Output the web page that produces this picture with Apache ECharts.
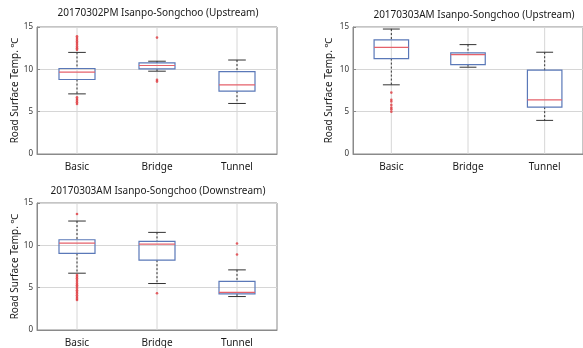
<!DOCTYPE html>
<html>
<head>
<meta charset="utf-8">
<script src="https://cdn.jsdelivr.net/npm/echarts@6/dist/echarts.min.js"></script>
<style>
html,body{margin:0;padding:0;background:#fff;}
#c{width:583px;height:348px;}
</style>
</head>
<body>
<div id="c"></div>
<script>
// ---- data ----
const categories = ['Basic', 'Bridge', 'Tunnel'];
const yTicks = [0, 5, 10, 15];
const titles = [
  '20170302PM Isanpo-Songchoo (Upstream)',
  '20170303AM Isanpo-Songchoo (Upstream)',
  '20170303AM Isanpo-Songchoo (Downstream)'
];
const yName = 'Road Surface Temp. ℃';

// panel 1: 20170302PM Upstream  (per category: whisker low, Q1, median, Q3, whisker high)
const p1Low  = [7.1, 9.78, 5.97];
const p1Q1   = [8.8, 10.05, 7.42];
const p1Med  = [9.68, 10.45, 8.17];
const p1Q3   = [10.1, 10.76, 9.74];
const p1High = [12.0, 10.96, 11.1];
const p1Outliers = [
  [0, 12.3], [0, 12.5], [0, 12.7], [0, 12.9], [0, 13.1], [0, 13.3], [0, 13.5], [0, 13.7], [0, 13.9],
  [0, 6.7], [0, 6.5], [0, 6.3], [0, 6.1], [0, 5.9],
  [1, 13.75], [1, 8.75], [1, 8.55]
];

// panel 2: 20170303AM Upstream
const p2Low  = [8.17, 10.25, 3.97];
const p2Q1   = [11.27, 10.56, 5.54];
const p2Med  = [12.6, 11.74, 6.4];
const p2Q3   = [13.47, 11.94, 9.9];
const p2High = [14.76, 12.92, 12.02];
const p2Outliers = [
  [0, 7.25], [0, 6.4], [0, 6.2], [0, 5.8], [0, 5.5], [0, 5.3], [0, 5.0]
];

// panel 3: 20170303AM Downstream
const p3Low  = [6.71, 5.49, 3.95];
const p3Q1   = [9.04, 8.25, 4.26];
const p3Med  = [10.26, 10.14, 4.45];
const p3Q3   = [10.66, 10.46, 5.75];
const p3High = [12.87, 11.53, 7.1];
const p3Outliers = [
  [0, 13.7],
  [0, 6.5], [0, 6.3], [0, 6.1], [0, 5.9], [0, 5.7], [0, 5.5], [0, 5.3], [0, 5.1], [0, 4.9],
  [0, 4.7], [0, 4.5], [0, 4.3], [0, 4.1], [0, 3.9], [0, 3.7], [0, 3.55],
  [1, 4.34],
  [2, 10.22], [2, 8.92]
];

// ---- build ----
const FONT = 'Noto Sans';
const GRIDC = '#d6d6d6';
const panels = [
  {low: p1Low, q1: p1Q1, med: p1Med, q3: p1Q3, high: p1High, out: p1Outliers},
  {low: p2Low, q1: p2Q1, med: p2Med, q3: p2Q3, high: p2High, out: p2Outliers},
  {low: p3Low, q1: p3Q1, med: p3Med, q3: p3Q3, high: p3High, out: p3Outliers}
];
const gridPos = [
  {left: 37, top: 27, width: 240, height: 127},
  {left: 353, top: 27, width: 240, height: 127},
  {left: 37, top: 203, width: 240, height: 127}
];
const titlePos = [
  {x: 158, y: 8},
  {x: 474, y: 10},
  {x: 158, y: 186}
];
const nameGaps = [14, 19, 14];

function renderBox(params, api) {
  const i = api.value(0);
  const pLow = api.coord([i, api.value(1)]);
  const pQ1 = api.coord([i, api.value(2)]);
  const pMed = api.coord([i, api.value(3)]);
  const pQ3 = api.coord([i, api.value(4)]);
  const pHigh = api.coord([i, api.value(5)]);
  const pTop = api.coord([i, 15]);
  const pBot = api.coord([i, 0]);
  const band = api.size([1, 0])[0];
  const bw = band * 0.45;
  const cw = band * 0.22;
  const x = pMed[0];
  const dash = {stroke: '#333', lineWidth: 1, lineDash: [2, 2]};
  const solid = {stroke: '#333', lineWidth: 1};
  return {
    type: 'group',
    children: [
      {type: 'line', shape: {x1: x, y1: pTop[1], x2: x, y2: pBot[1]}, style: {stroke: GRIDC, lineWidth: 1}},
      {type: 'line', shape: {x1: x, y1: pHigh[1], x2: x, y2: pQ3[1]}, style: dash},
      {type: 'line', shape: {x1: x, y1: pQ1[1], x2: x, y2: pLow[1]}, style: dash},
      {type: 'line', shape: {x1: x - cw / 2, y1: pHigh[1], x2: x + cw / 2, y2: pHigh[1]}, style: solid},
      {type: 'line', shape: {x1: x - cw / 2, y1: pLow[1], x2: x + cw / 2, y2: pLow[1]}, style: solid},
      {type: 'rect', shape: {x: x - bw / 2, y: pQ3[1], width: bw, height: pQ1[1] - pQ3[1]},
        style: {fill: 'none', stroke: '#5a78b8', lineWidth: 1.2}},
      {type: 'line', shape: {x1: x - bw / 2, y1: pMed[1], x2: x + bw / 2, y2: pMed[1]},
        style: {stroke: '#e5616a', lineWidth: 1.2}}
    ]
  };
}

const grid = [], xAxis = [], yAxis = [], series = [], title = [];
panels.forEach((p, k) => {
  grid.push(Object.assign({show: true, borderColor: '#8a8a8a', borderWidth: 1, backgroundColor: 'transparent'}, gridPos[k]));
  title.push({
    text: titles[k], left: titlePos[k].x, top: titlePos[k].y, textAlign: 'center', padding: 0,
    textStyle: {fontFamily: FONT, fontSize: 10, fontWeight: 'normal', color: '#1a1a1a'}
  });
  xAxis.push({
    type: 'category', gridIndex: k, data: categories, boundaryGap: true,
    axisLine: {show: true, lineStyle: {color: '#8a8a8a'}},
    axisTick: {show: false},
    splitLine: {show: false},
    axisLabel: {fontFamily: FONT, fontSize: 10, color: '#1a1a1a', margin: 8}
  });
  yAxis.push({
    type: 'value', gridIndex: k, min: yTicks[0], max: yTicks[yTicks.length - 1], interval: 5,
    name: yName, nameLocation: 'middle', nameGap: nameGaps[k],
    nameTextStyle: {fontFamily: FONT, fontSize: 10, color: '#1a1a1a'},
    axisLine: {show: true, lineStyle: {color: '#8a8a8a'}},
    axisTick: {show: true, inside: true, length: 3, lineStyle: {color: '#8a8a8a'}},
    splitLine: {show: true, lineStyle: {color: GRIDC, width: 1}},
    axisLabel: {fontFamily: FONT, fontSize: 8, color: '#333', margin: 4}
  });
  series.push({
    type: 'custom', xAxisIndex: k, yAxisIndex: k, renderItem: renderBox, silent: true,
    encode: {x: 0, y: [1, 2, 3, 4, 5]},
    data: categories.map((c, i) => [i, p.low[i], p.q1[i], p.med[i], p.q3[i], p.high[i]]),
    z: 2
  });
  series.push({
    type: 'scatter', xAxisIndex: k, yAxisIndex: k, symbol: 'circle', symbolSize: 2.6,
    itemStyle: {color: '#e0393e'}, data: p.out, silent: true, z: 3
  });
});

const chart = echarts.init(document.getElementById('c'), null, {renderer: 'canvas'});
chart.setOption({animation: false, backgroundColor: '#fff', title, grid, xAxis, yAxis, series});
</script>
</body>
</html>
